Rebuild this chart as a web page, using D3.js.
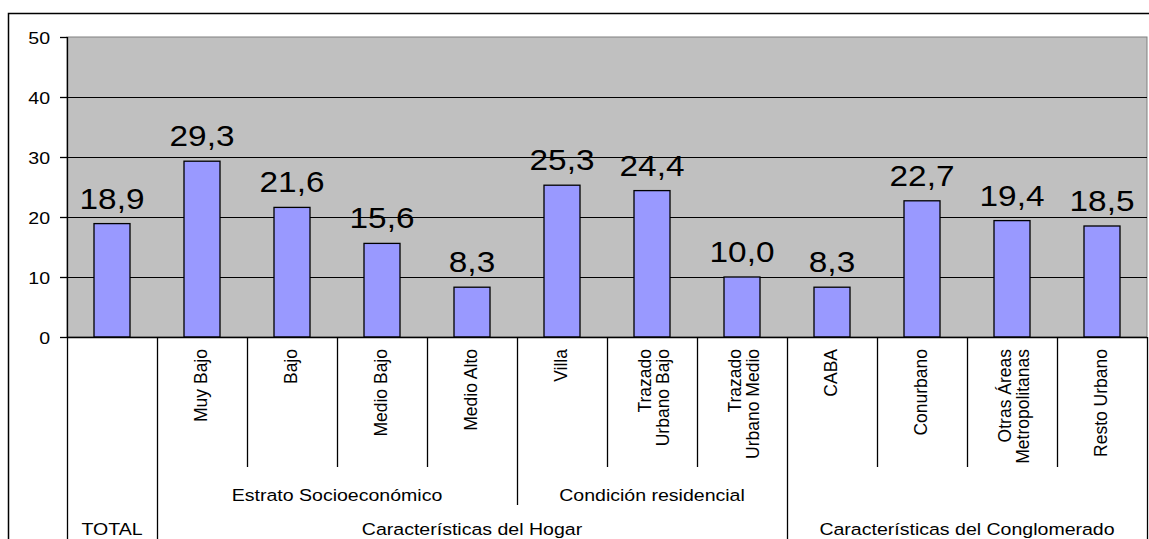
<!DOCTYPE html>
<html>
<head>
<meta charset="utf-8">
<script src="https://cdn.jsdelivr.net/npm/d3@7"></script>
<style>
  html, body { margin: 0; padding: 0; background: #fff; }
  svg { display: block; }
  text { font-family: "Liberation Sans", Arial, sans-serif; fill: #000; }
</style>
</head>
<body>
<script>
// ---- data ----
const categories = ["TOTAL", "Muy Bajo", "Bajo", "Medio Bajo", "Medio Alto", "Villa",
  "Trazado Urbano Bajo", "Trazado Urbano Medio", "CABA", "Conurbano",
  "Otras Áreas Metropolitanas", "Resto Urbano"];
const categoryLines = [[], ["Muy Bajo"], ["Bajo"], ["Medio Bajo"], ["Medio Alto"], ["Villa"],
  ["Trazado", "Urbano Bajo"], ["Trazado", "Urbano Medio"], ["CABA"], ["Conurbano"],
  ["Otras Áreas", "Metropolitanas"], ["Resto Urbano"]];
const values = [18.9, 29.3, 21.6, 15.6, 8.3, 25.3, 24.4, 10.0, 8.3, 22.7, 19.4, 18.5];
const valueLabels = ["18,9", "29,3", "21,6", "15,6", "8,3", "25,3", "24,4", "10,0", "8,3", "22,7", "19,4", "18,5"];
const yTicks = [0, 10, 20, 30, 40, 50];
const level2Labels = ["Estrato Socioeconómico", "Condición residencial"];
const level2Start = [1, 5];
const level2End = [4, 7];
const level3Labels = ["TOTAL", "Características del Hogar", "Características del Conglomerado"];
const level3Start = [0, 1, 8];
const level3End = [0, 7, 11];

// ---- layout ----
const W = 1149, H = 539;
const plot = { left: 67, right: 1147, top: 37, bottom: 337 };
const row1Bottom = 467, row2Bottom = 505;
const sx = 1.15; // horizontal stretch of horizontal texts

const svg = d3.select("body").append("svg").attr("width", W).attr("height", H);

// outer frame
svg.append("path")
  .attr("d", `M8.5,${H} V13.5 H${W}`)
  .attr("fill", "none").attr("stroke", "#000").attr("stroke-width", 1.5);

const x = d3.scaleBand().domain(categories).range([plot.left, plot.right])
  .paddingInner(0.6).paddingOuter(0.3);
const step = x.step();
const y = d3.scaleLinear().domain([0, 50]).range([plot.bottom, plot.top]);

// plot background
svg.append("rect")
  .attr("x", plot.left).attr("y", plot.top)
  .attr("width", plot.right - plot.left).attr("height", plot.bottom - plot.top)
  .attr("fill", "#C0C0C0").attr("stroke", "#808080").attr("stroke-width", 1);

// gridlines
svg.append("g").selectAll("line").data(yTicks.filter(d => d > 0 && d < 50)).join("line")
  .attr("x1", plot.left).attr("x2", plot.right)
  .attr("y1", d => Math.round(y(d)) + 0.5).attr("y2", d => Math.round(y(d)) + 0.5)
  .attr("stroke", "#000").attr("stroke-width", 1.2);

// y axis
const yAxis = d3.axisLeft(y).tickValues(yTicks).tickSize(7).tickPadding(9).tickFormat(d3.format("d"));
const gy = svg.append("g").attr("transform", `translate(${plot.left},0)`).call(yAxis);
gy.select(".domain").remove();
gy.selectAll(".tick line").attr("stroke", "#000").attr("stroke-width", 1.3);
gy.selectAll(".tick text")
  .attr("font-size", 17).attr("font-family", "Liberation Sans, Arial, sans-serif")
  .attr("fill", "#000").attr("dy", null).attr("y", 6)
  .attr("transform", `scale(${sx},1)`)
  .attr("x", -17 / sx);

// left axis line (continues down through category area)
svg.append("line")
  .attr("x1", plot.left + 0.5).attr("x2", plot.left + 0.5)
  .attr("y1", plot.top).attr("y2", H)
  .attr("stroke", "#000").attr("stroke-width", 1.3);

// bars
svg.append("g").selectAll("rect").data(values).join("rect")
  .attr("x", (d, i) => x(categories[i]))
  .attr("y", d => y(d))
  .attr("width", x.bandwidth())
  .attr("height", d => y(0) - y(d))
  .attr("fill", "#9999FF").attr("stroke", "#000").attr("stroke-width", 1.3);

// value labels
svg.append("g").selectAll("text").data(values).join("text")
  .attr("transform", (d, i) => `translate(${x(categories[i]) + x.bandwidth() / 2},${y(d) - 15}) scale(${sx},1)`)
  .attr("text-anchor", "middle").attr("font-size", 29)
  .text((d, i) => valueLabels[i]);

// x axis line
svg.append("line")
  .attr("x1", plot.left).attr("x2", plot.right)
  .attr("y1", plot.bottom + 0.5).attr("y2", plot.bottom + 0.5)
  .attr("stroke", "#000").attr("stroke-width", 1.3);

// divider lines in category area
const boundaries = d3.range(0, categories.length + 1);
function boundaryBottom(b) {
  const isL3 = level3Start.includes(b) || level3End.some(e => e + 1 === b);
  if (isL3 || b === 0 || b === categories.length) return H;
  const isL2 = level2Start.includes(b) || level2End.some(e => e + 1 === b);
  if (isL2) return row2Bottom;
  return row1Bottom;
}
svg.append("g").selectAll("line").data(boundaries.slice(1)).join("line")
  .attr("x1", b => plot.left + step * b + 0.5).attr("x2", b => plot.left + step * b + 0.5)
  .attr("y1", plot.bottom).attr("y2", b => boundaryBottom(b))
  .attr("stroke", "#000").attr("stroke-width", 1.3);

// level 1 labels (rotated)
const lineGap = 17.5;
const g1 = svg.append("g");
categoryLines.forEach((lines, i) => {
  const cx = x(categories[i]) + x.bandwidth() / 2;
  const n = lines.length;
  lines.forEach((t, k) => {
    const bx = cx + 5 + (n > 1 ? 3 : 0) + (k - (n - 1) / 2) * lineGap;
    g1.append("text")
      .attr("transform", `translate(${bx},349) rotate(-90)`)
      .attr("text-anchor", "end").attr("font-size", 17.5)
      .text(t);
  });
});

// level 2 labels
svg.append("g").selectAll("text").data(level2Labels).join("text")
  .attr("transform", (d, i) => {
    const cx = plot.left + step * (level2Start[i] + level2End[i] + 1) / 2;
    return `translate(${cx},501) scale(${sx},1)`;
  })
  .attr("text-anchor", "middle").attr("font-size", 17)
  .text(d => d);

// level 3 labels
svg.append("g").selectAll("text").data(level3Labels).join("text")
  .attr("transform", (d, i) => {
    const cx = plot.left + step * (level3Start[i] + level3End[i] + 1) / 2;
    return `translate(${cx},535) scale(${sx},1)`;
  })
  .attr("text-anchor", "middle").attr("font-size", 17)
  .text(d => d);
</script>
</body>
</html>
